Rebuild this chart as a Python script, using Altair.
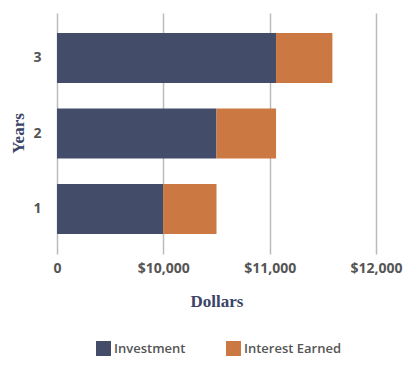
import altair as alt
import pandas as pd

years = ["1", "2", "3"]
series = ["Investment", "Interest Earned"]
investment = [10000, 10500, 11060]
interest = [500, 560, 530]
tick_values = [9000, 10000, 11000, 12000]
colors = ["#434D6A", "#CC7843"]

rows = []
for y, inv, intr in zip(years, investment, interest):
    rows.append({"Year": y, "Type": series[0], "Amount": inv, "order": 0})
    rows.append({"Year": y, "Type": series[1], "Amount": intr, "order": 1})
df = pd.DataFrame(rows)

chart = alt.Chart(df).mark_bar(clip=True).encode(
    y=alt.Y("Year:N", sort="descending",
            scale=alt.Scale(paddingInner=0.338, paddingOuter=0.265),
            axis=alt.Axis(title="Years", domain=False, ticks=False, grid=False,
                          labelPadding=16, labelFont="Open Sans", labelFontSize=14,
                          labelFontWeight="bold", labelColor="#555555",
                          titleFont="Liberation Serif", titleFontSize=17,
                          titleFontWeight="bold", titleColor="#3A4466",
                          titleX=-39, titleY=120, titleBaseline="middle",
                          titleAngle=-90)),
    x=alt.X("Amount:Q", stack="zero",
            scale=alt.Scale(domain=[9000, 12000], clamp=True, nice=False, zero=False),
            axis=alt.Axis(title="Dollars", values=tick_values, domain=False,
                          tickSize=0, labelPadding=7, labelFlush=False,
                          labelExpr="datum.value == 9000 ? '0' : '$' + format(datum.value, ',')",
                          labelFont="Open Sans", labelFontSize=14,
                          labelFontWeight="bold", labelColor="#555555",
                          gridColor="#BBBBBB", gridWidth=1.5,
                          titleFont="Liberation Serif", titleFontSize=17,
                          titleFontWeight="bold", titleColor="#3A4466",
                          titleY=47, titleBaseline="middle")),
    color=alt.Color("Type:N", scale=alt.Scale(domain=series, range=colors),
                    sort=series,
                    legend=alt.Legend(title=None, orient="none", legendX=39, legendY=328,
                                      direction="horizontal", symbolType="square",
                                      symbolSize=225, symbolStrokeWidth=0,
                                      labelFont="Open Sans", labelFontSize=13,
                                      labelFontWeight=600, labelColor="#555555",
                                      labelOffset=3, columnPadding=40, padding=0)),
    order=alt.Order("order:Q"),
).properties(
    width=319, height=241,
    autosize=alt.AutoSizeParams(type="none"),
    padding={"left": 49, "top": 5, "right": 27, "bottom": 104},
).configure_view(stroke=None)

chart.save("out.html", embed_options={"renderer": "svg", "actions": False})
